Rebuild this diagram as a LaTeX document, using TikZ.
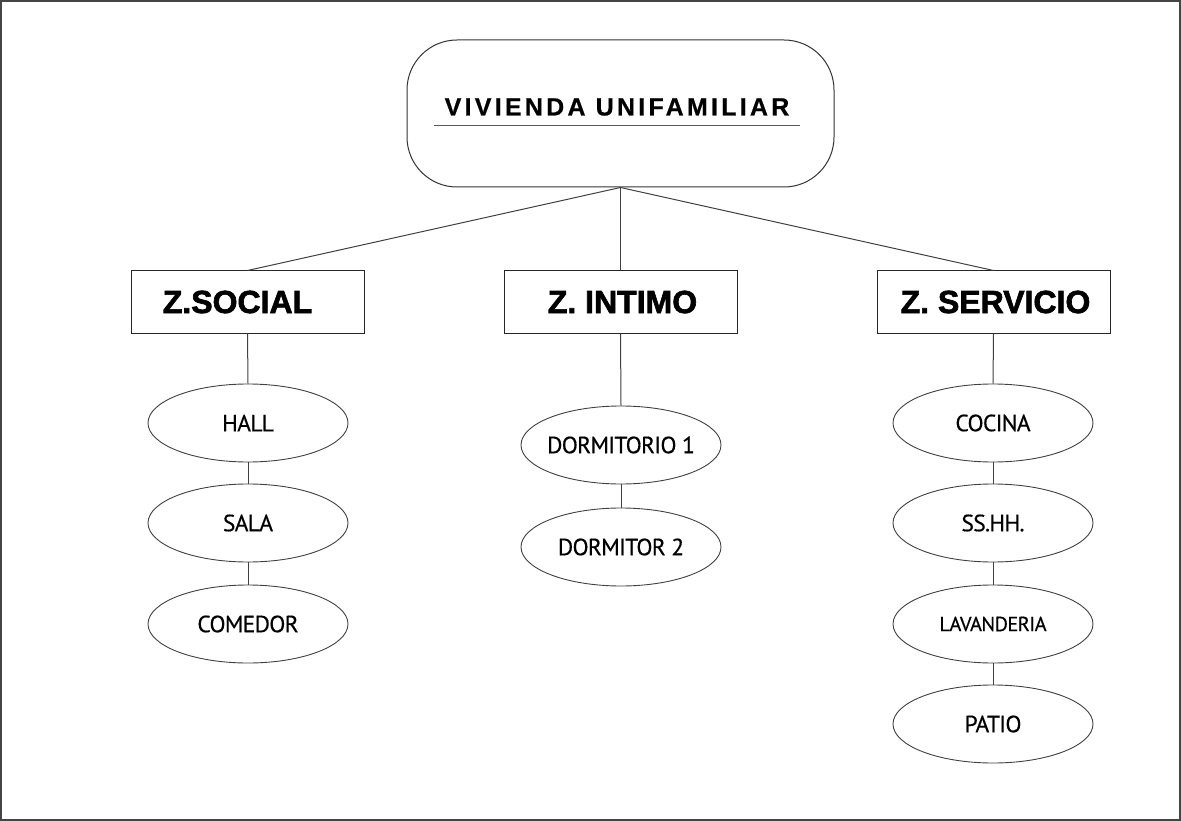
\documentclass[tikz,border=0pt]{standalone}
\usepackage{fontspec}
\setmainfont{Liberation Sans}
\newfontfamily\zfont{Liberation Sans}[BoldFeatures={FakeBold=2}]
\newfontfamily\titlefont{Liberation Sans}[LetterSpace=13,BoldFeatures={FakeBold=0.6}]
\newfontfamily\elfont{PT Sans}[LetterSpace=-3,FakeBold=0.4]
\usetikzlibrary{shapes.geometric}
\definecolor{frame}{HTML}{454545}
\definecolor{linec}{HTML}{404040}
\begin{document}
\begin{tikzpicture}[x=1pt,y=-1pt,
  zonebox/.style={draw=black!85,line width=1pt,minimum width=233pt,minimum height=62pt,inner sep=0pt,
    font=\zfont\bfseries\fontsize{32}{36}\selectfont},
  room/.style={ellipse,draw=black!75,line width=0.9pt,minimum width=200pt,minimum height=78pt,inner sep=0pt,
    font=\elfont\fontsize{23.5}{26}\selectfont},
  conn/.style={draw=linec,line width=1pt}]
\useasboundingbox (0,0) rectangle (1181,821);
\draw[frame,line width=2pt] (1,1) rectangle (1180,820);
% root
\node[draw=black!80,line width=1pt,rounded corners=50pt,minimum width=427pt,minimum height=147pt] (root) at (620.5,113.5) {};
\node[font=\titlefont\bfseries\fontsize{25}{28}\selectfont,inner sep=0pt] (title) at (617,107) {VIVIENDA UNIFAMILIAR};
\coordinate (ul1) at (434,125.5);
\coordinate (ul2) at (800,125.5);
\draw[black!65,line width=1.2pt] (ul1) -- (ul2);
% zones
\node[zonebox] (zs) at (247.5,302) {\hspace*{-20pt}Z.SOCIAL};
\node[zonebox] (zi) at (620.5,302) {\hspace*{4pt}Z. INTIMO};
\node[zonebox] (zv) at (993.5,302) {\hspace*{4pt}Z. SERVICIO};
\draw[conn] (root.south) -- (zs.north);
\draw[conn] (root.south) -- (zi.north);
\draw[conn] (root.south) -- (zv.north);
% social
\node[room] (hall) at (248,423) {HALL};
\node[room] (sala) at (248,523) {SALA};
\node[room] (comedor) at (248,624) {COMEDOR};
\draw[conn] (zs.south) -- (hall.north);
\draw[conn] (hall.south) -- (sala.north);
\draw[conn] (sala.south) -- (comedor.north);
% intimo
\node[room] (d1) at (621,445) {\makebox[0pt]{DORMITORIO 1}};
\node[room] (d2) at (621,547) {\makebox[0pt]{DORMITOR 2}};
\draw[conn] (zi.south) -- (d1.north);
\draw[conn] (d1.south) -- (d2.north);
% servicio
\node[room] (cocina) at (993,423) {COCINA};
\node[room] (sshh) at (993,523) {SS.HH.};
\node[room,font=\elfont\fontsize{20.5}{23}\selectfont] (lav) at (993,624) {\makebox[0pt]{LAVANDERIA}};
\node[room] (patio) at (993,724) {PATIO};
\draw[conn] (zv.south) -- (cocina.north);
\draw[conn] (cocina.south) -- (sshh.north);
\draw[conn] (sshh.south) -- (lav.north);
\draw[conn] (lav.south) -- (patio.north);
\end{tikzpicture}
\end{document}
